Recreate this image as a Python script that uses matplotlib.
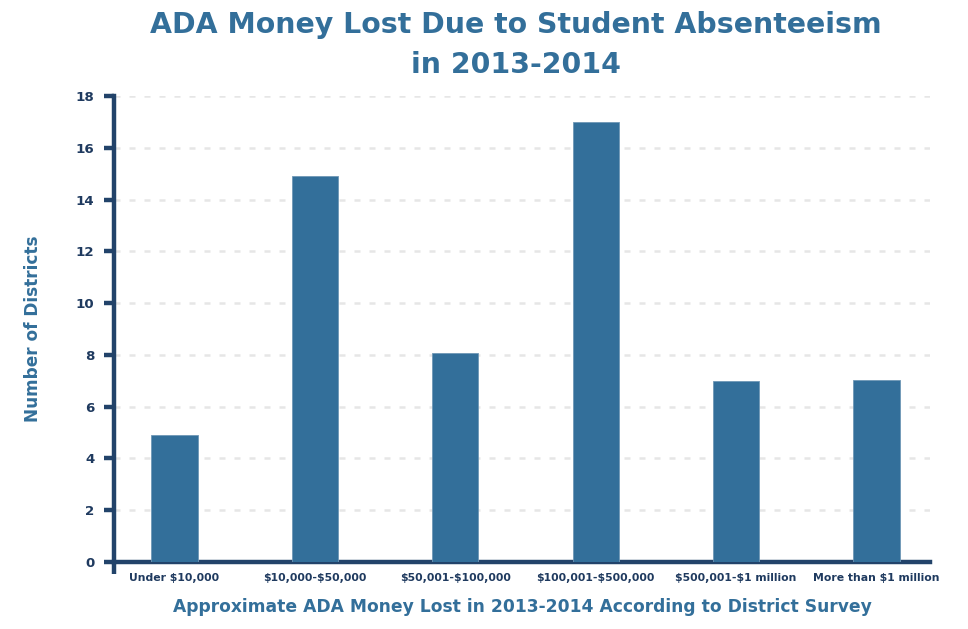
import matplotlib
matplotlib.use("Agg")
import matplotlib.pyplot as plt

categories = ["Under $10,000", "$10,000-$50,000", "$50,001-$100,000",
              "$100,001-$500,000", "$500,001-$1 million", "More than $1 million"]
districts = [4.9, 14.9, 8.07, 17.0, 6.99, 7.03]
yticks = list(range(0, 19, 2))

title = "ADA Money Lost Due to Student Absenteeism\nin 2013-2014"
xlabel = "Approximate ADA Money Lost in 2013-2014 According to District Survey"
ylabel = "Number of Districts"

bar_color = "#336f9a"
text_color = "#336f9a"
axis_color = "#22436a"
tick_color = "#1f3a5f"

plt.rcParams['font.family'] = ['DejaVu Sans']
plt.rcParams['text.parse_math'] = False
fig = plt.figure(figsize=(9.68, 6.29), dpi=100)
ax = fig.add_axes([114/968, 1-562/629, (930-114)/968, (562-96)/629])

x = list(range(len(categories)))
ax.bar(x, districts, width=0.33, color=bar_color, edgecolor="#6f97b6", linewidth=0.6, zorder=3)

ax.set_xlim(-0.43, 5.38)
ax.set_ylim(0, 18)
ax.set_yticks(yticks)
ax.set_yticklabels([str(t) for t in yticks], fontsize=9.6, fontweight='bold', color=tick_color)
ax.set_xticks(x)
ax.set_xticklabels(categories, fontsize=7.8, fontweight='bold', color=tick_color)

ax.yaxis.grid(True, color="#e6e6e6", linewidth=1.8, linestyle=(0, (2.4, 3.6)), zorder=0)
ax.set_axisbelow(True)

for s in ["top", "right"]:
    ax.spines[s].set_visible(False)
for s in ["left", "bottom"]:
    ax.spines[s].set_color(axis_color)
    ax.spines[s].set_linewidth(3.2)
ax.tick_params(axis='y', length=7, width=3.2, color=axis_color, pad=7)
ax.tick_params(axis='x', length=0, pad=8)
ax.plot([0, 0], [-0.025, 0], transform=ax.transAxes, color=axis_color,
        linewidth=3.2, clip_on=False, solid_capstyle='butt')

ax.set_ylabel(ylabel, fontsize=12.2, fontweight='bold', color=text_color, labelpad=24)
ax.set_xlabel(xlabel, fontsize=12.3, fontweight='bold', color=text_color, labelpad=11)
fig.suptitle(title, fontsize=20.4, fontweight='bold', color=text_color, y=0.982,
             linespacing=1.55, x=0.533)

fig.savefig("out.png", dpi=100)
